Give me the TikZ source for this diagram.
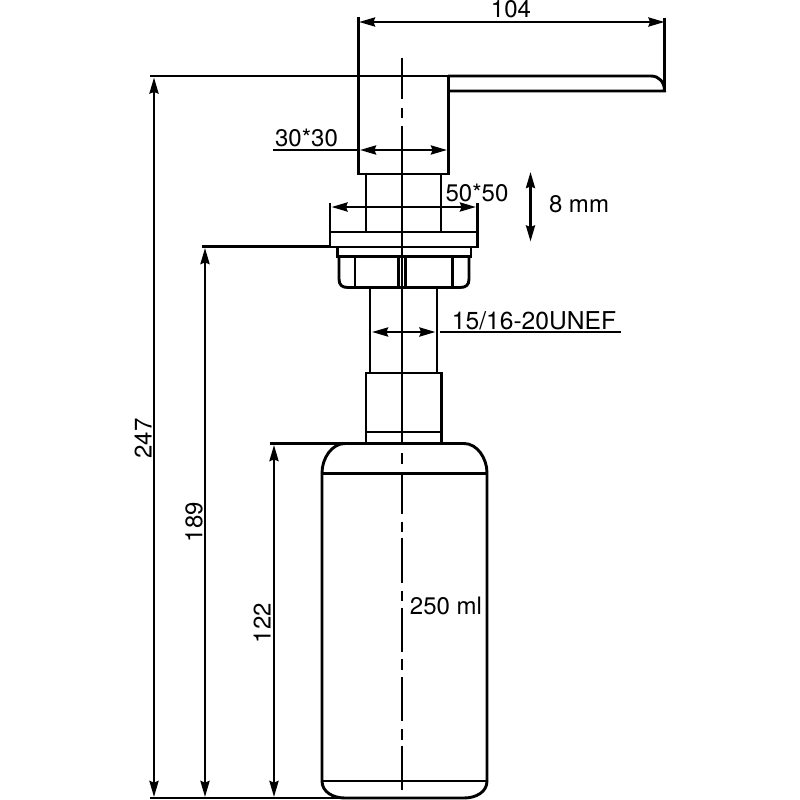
\documentclass[tikz,border=0pt]{standalone}
\usepackage{fontspec}
\setmainfont{TeX Gyre Heros}
\usetikzlibrary{arrows.meta}
\tikzset{
  part/.style={line width=2.9pt,line join=miter},
  thin part/.style={line width=2.3pt},
  dim/.style={line width=2.5pt,{Stealth[length=16pt,width=9pt,inset=1.5pt]}-{Stealth[length=16pt,width=9pt,inset=1.5pt]}},
  ext/.style={line width=2.5pt},
  lab/.style={font=\fontsize{24pt}{26pt}\selectfont,inner sep=0pt}
}
\begin{document}
\begin{tikzpicture}[x=1pt,y=-1pt]
\useasboundingbox (0,0) rectangle (800,800);
\fill[white] (0,0) rectangle (800,800);
\coordinate (t1) at (359,22);
\coordinate (t2) at (664.5,22);
% extension lines
\draw[part] (358.5,17) -- (358.5,76);
\draw[part] (664.5,18) -- (664.5,92);
\draw[part] (150,76) -- (448,76);
\draw[ext] (202,246.5) -- (330,246.5);
\draw[ext] (270,443.5) -- (345,443.5);
\draw[part] (150,798) -- (345,798);
\draw[ext] (273,150) -- (358.5,150);
\draw[ext] (440,332) -- (621,332);
% head and spout
\draw[part] (358.5,76) -- (358.5,174) -- (448.5,174) -- (448.5,76);
\draw[part] (448,76) -- (651,76) .. controls (659,76) and (664.5,82) .. (664.5,91) -- (448,91);
% neck
\draw[part] (366,174) -- (366,232);
\draw[part] (441,174) -- (441,232);
% plate
\draw[part] (330,203) -- (330,247) -- (477.5,247) -- (477.5,203);
\draw[part] (330,232) -- (477.5,232);
% washer
\draw[part] (337.5,247) -- (337.5,256.5) -- (471,256.5) -- (471,247);
% nut
\draw[part] (339,256.5) -- (339,279) .. controls (339,285) and (342,287.5) .. (348,287.5) -- (460,287.5) .. controls (466,287.5) and (469,285) .. (469,279) -- (469,256.5);
\draw[part] (355,256.5) -- (355,288);
\draw[part] (452.5,256.5) -- (452.5,288);
\draw[thin part] (398.5,256.5) -- (398.5,288);
\draw[thin part] (405.5,256.5) -- (405.5,288);
% tube
\draw[part] (370,288) -- (370,373);
\draw[part] (437,288) -- (437,373);
% collar
\draw[part] (366,443) -- (366,373) -- (441.5,373) -- (441.5,443);
\draw[part] (366,432) -- (441.5,432);
% bottle
\draw[part] (345,443.5) -- (464,443.5) .. controls (477,443.5) and (487,458) .. (487,473) -- (487,781) .. controls (487,792) and (476,798) .. (464,798) -- (345,798) .. controls (333,798) and (322,792) .. (322,781) -- (322,473) .. controls (322,458) and (332,443.5) .. (345,443.5) -- cycle;
\draw[part] (322,473.5) -- (487,473.5);
\draw[part] (322,781) -- (487,781);
% centre line
\draw[part] (402,58) -- (402,99);
\draw[part] (402,108) -- (402,118);
\draw[part] (402,126) -- (402,443);
\draw[part] (402,453) -- (402,464);
\draw[part] (402,475) -- (402,514);
\draw[part] (402,522) -- (402,532);
\draw[part] (402,538) -- (402,583);
\draw[part] (402,591) -- (402,601);
\draw[part] (402,608) -- (402,652);
\draw[part] (402,659) -- (402,670);
\draw[part] (402,677) -- (402,721);
\draw[part] (402,729) -- (402,740);
\draw[part] (402,746) -- (402,790);
% dimensions
\draw[dim] (t1) -- (t2);
\draw[dim] (360,150) -- (447,150);
\draw[dim] (331.5,207) -- (476,207);
\draw[dim] (372,332) -- (435.5,332);
\draw[dim] (530.5,172) -- (530.5,241.5);
\draw[dim] (154,77.5) -- (154,797);
\draw[dim] (205,248) -- (205,797);
\draw[dim] (274,445) -- (274,797);
% labels
\node[lab] (l104) at (511,9.5) {104};
\node[lab] (l30) at (306.5,138) {30*30};
\node[lab] (l50) at (477,193) {50*50};
\node[lab] (l8) at (579,204) {8 mm};
\node[lab,font=\fontsize{24.6pt}{26pt}\selectfont] (l15) at (534,320.5) {15/16-20UNEF};
\node[lab] (l250) at (446,605.5) {250 ml};
\node[lab,rotate=90] (l247) at (143,438.5) {247};
\node[lab,rotate=90] (l189) at (194,522) {189};
\node[lab,rotate=90] (l122) at (262,623) {122};
\end{tikzpicture}
\end{document}
